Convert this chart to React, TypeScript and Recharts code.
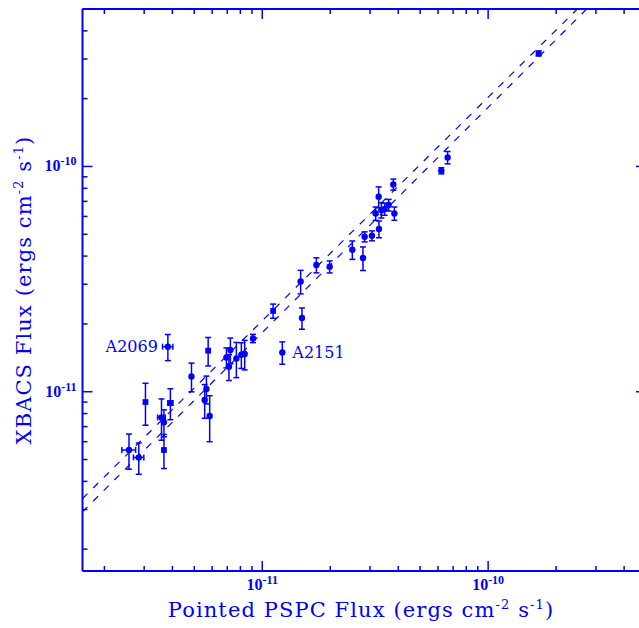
import React from 'react';
import { ScatterChart, Scatter, XAxis, YAxis, ErrorBar, ReferenceLine, ReferenceDot } from 'recharts';

const BLUE = '#0000ff';
const UNIT = 1e-11; // all fluxes below are in units of 1e-11 ergs cm^-2 s^-1

// --- cluster fluxes ---
const PSPC_FLUX = [
    0.257, 0.284, 0.304, 0.358, 0.367, 0.367, 0.392, 0.382, 0.486, 0.566,
    0.556, 0.585, 0.576, 0.694, 0.7225, 0.712, 0.768, 0.808, 0.836, 0.91,
    1.227, 1.117, 1.499, 1.479, 1.736, 1.988, 2.505, 2.792, 2.84, 3.059,
    3.286, 3.177, 3.276, 3.367, 3.482, 3.627, 3.845, 3.805, 6.206, 6.617,
    16.73,
];
const PSPC_ERR = [
    0.018, 0.015, 0, 0.014, 0, 0, 0.01, 0.02, 0, 0,
    0, 0, 0, 0, 0, 0, 0, 0, 0, 0,
    0, 0, 0, 0, 0, 0, 0, 0, 0, 0,
    0, 0, 0, 0, 0, 0, 0, 0, 0, 0,
    0,
];
const XBACS_FLUX = [
    0.551, 0.511, 0.9, 0.769, 0.731, 0.551, 0.891, 1.584, 1.169, 1.028,
    0.919, 0.78, 1.521, 1.42, 1.531, 1.291, 1.405, 1.459, 1.47, 1.724,
    1.494, 2.284, 2.124, 3.088, 3.651, 3.587, 4.268, 3.922, 4.875, 4.925,
    5.275, 6.186, 7.336, 6.404, 6.469, 6.74, 6.186, 8.319, 9.57, 10.96,
    31.74,
];
const XBACS_ERR = [
    0.098, 0.081, 0.19, 0.16, 0.1, 0.095, 0.14, 0.21, 0.17, 0.145,
    0.157, 0.18, 0.22, 0.145, 0.2, 0.17, 0.25, 0.19, 0.22, 0.073,
    0.17, 0.165, 0.23, 0.37, 0.28, 0.22, 0.4, 0.47, 0.25, 0.25,
    0.45, 0.42, 0.78, 0.5, 0.4, 0.4, 0.42, 0.47, 0.3, 0.69,
    0.8,
];
// c = circle, s = square
const MARKER = [
    'c', 'c', 's', 'c', 'c', 's', 's', 'c', 'c', 'c',
    'c', 'c', 's', 'c', 'c', 'c', 'c', 'c', 'c', 'c',
    'c', 's', 'c', 'c', 'c', 'c', 'c', 'c', 'c', 'c',
    'c', 'c', 'c', 'c', 'c', 'c', 'c', 'c', 'c', 'c',
    's',
];

// named clusters: [name, point index, side of the label]
const NAMED = [
    ['A2069', 7, 'left'],
    ['A2151', 20, 'right'],
] as const;

// the two dashed relations, as end points [pspc, xbacs]
const UPPER_LINE = [[0.16, 0.3357], [26, 52.3]];
const LOWER_LINE = [[0.16, 0.293], [28, 51.2]];

const AXIS_MIN = 0.16;
const AXIS_MAX = 50;
const TICKS = [0.2, 0.3, 0.4, 0.5, 0.6, 0.7, 0.8, 0.9, 1, 2, 3, 4, 5, 6, 7, 8, 9, 10, 20, 30, 40, 50];
const DECADE_LABELS: Record<string, string> = { '1': '-11', '10': '-10' };

const data = PSPC_FLUX.map((x, i) => ({
    x: x * UNIT,
    y: XBACS_FLUX[i] * UNIT,
    ex: PSPC_ERR[i] * UNIT,
    ey: XBACS_ERR[i] * UNIT,
    marker: MARKER[i],
}));

const W = 660;
const H = 628;
const PLOT_TOP = 9;
const PLOT_RIGHT = W - 14;
const PLOT_LEFT = 82.5;
const PLOT_BOTTOM = 571;
const TICK_FONT = '"Liberation Serif", serif';
const TITLE_FONT = '"DejaVu Serif", serif';

const decadeOf = (v: number) => DECADE_LABELS[String(Math.round(v / UNIT * 100) / 100)];

const Marker = (props: any) => {
    const { cx, cy, payload } = props;
    if (cx == null || cy == null) return null;
    if (payload.marker === 's') {
        return <rect x={cx - 2.9} y={cy - 2.9} width={5.8} height={5.8} fill={BLUE} />;
    }
    return <circle cx={cx} cy={cy} r={3.2} fill={BLUE} />;
};

const TickLabel = ({ x, y, exp, anchor }: { x: number; y: number; exp: string; anchor: 'middle' | 'end' }) => (
    <text x={x} y={y} textAnchor={anchor} fill={BLUE} fontFamily={TICK_FONT} fontWeight="bold" fontSize={16}>
        10<tspan dy={-6} fontSize={12}>{exp}</tspan>
    </text>
);

// bottom ticks, plus the matching ticks along the top of the frame
const XTick = (props: any) => {
    const { x, payload } = props;
    const exp = decadeOf(payload.value);
    const len = exp ? 10 : 5;
    return (
        <g>
            <line x1={x} x2={x} y1={PLOT_BOTTOM} y2={PLOT_BOTTOM - len} stroke={BLUE} strokeWidth={1.5} />
            <line x1={x} x2={x} y1={PLOT_TOP} y2={PLOT_TOP + len} stroke={BLUE} strokeWidth={1.5} />
            {exp && <TickLabel x={x} y={PLOT_BOTTOM + 19} exp={exp} anchor="middle" />}
        </g>
    );
};

// left ticks, plus the matching ticks along the right of the frame
const YTick = (props: any) => {
    const { y, payload } = props;
    const exp = decadeOf(payload.value);
    const len = exp ? 10 : 5;
    return (
        <g>
            <line x1={PLOT_LEFT} x2={PLOT_LEFT + len} y1={y} y2={y} stroke={BLUE} strokeWidth={1.5} />
            <line x1={PLOT_RIGHT} x2={PLOT_RIGHT - len} y1={y} y2={y} stroke={BLUE} strokeWidth={1.5} />
            {exp && <TickLabel x={PLOT_LEFT - 6} y={y + 5} exp={exp} anchor="end" />}
        </g>
    );
};

const TitleText = ({ x, y, rotate, lead }: { x: number; y: number; rotate?: boolean; lead: string }) => (
    <text x={x} y={y} transform={rotate ? `rotate(-90, ${x}, ${y})` : undefined} textAnchor="middle"
        fill={BLUE} fontFamily={TITLE_FONT} fontSize={21} letterSpacing={1.1}>
        {lead} (ergs cm<tspan dy={-8} fontSize={13}>-2</tspan>
        <tspan dy={8}> s</tspan><tspan dy={-8} fontSize={13}>-1</tspan><tspan dy={8}>)</tspan>
    </text>
);

const XTitle = () => <TitleText x={361} y={617} lead="Pointed PSPC Flux" />;
const YTitle = () => <TitleText x={31} y={290} rotate lead="XBACS Flux" />;

const segment = (pts: number[][]) => pts.map(([x, y]) => ({ x: x * UNIT, y: y * UNIT }));

export default function App() {
    const domain = [AXIS_MIN * UNIT, AXIS_MAX * UNIT];
    const ticks = TICKS.map(t => t * UNIT);
    return (
        <div style={{ position: 'fixed', left: 0, top: 0, width: 639, height: 628, overflow: 'hidden', background: '#fff' }}>
            <ScatterChart width={W} height={H} margin={{ top: PLOT_TOP, right: 14, bottom: 0, left: 0 }}>
                <XAxis
                    type="number" dataKey="x" scale="log" domain={domain} allowDataOverflow
                    ticks={ticks} interval={0} tick={<XTick />} tickSize={0} tickMargin={0} tickLine={false}
                    height={H - PLOT_BOTTOM} axisLine={{ stroke: BLUE, strokeWidth: 2 }}
                    label={{ content: XTitle }}
                />
                <YAxis
                    type="number" dataKey="y" scale="log" domain={domain} allowDataOverflow
                    ticks={ticks} interval={0} tick={<YTick />} tickSize={0} tickMargin={0} tickLine={false}
                    width={PLOT_LEFT} axisLine={{ stroke: BLUE, strokeWidth: 2 }}
                    label={{ content: YTitle }}
                />
                <ReferenceLine y={AXIS_MAX * UNIT} stroke={BLUE} strokeWidth={2} />
                <ReferenceLine x={AXIS_MAX * UNIT} stroke={BLUE} strokeWidth={2} />
                <ReferenceLine segment={segment(UPPER_LINE)} ifOverflow="hidden" stroke={BLUE} strokeWidth={1.2} strokeDasharray="7 8" />
                <ReferenceLine segment={segment(LOWER_LINE)} ifOverflow="hidden" stroke={BLUE} strokeWidth={1.2} strokeDasharray="7 8" />
                <Scatter data={data} shape={<Marker />} isAnimationActive={false}>
                    <ErrorBar dataKey="ey" direction="y" width={3} stroke={BLUE} strokeWidth={1.5} isAnimationActive={false} />
                    <ErrorBar dataKey="ex" direction="x" width={3} stroke={BLUE} strokeWidth={1.5} isAnimationActive={false} />
                </Scatter>
                {NAMED.map(([name, idx, side]) => (
                    <ReferenceDot
                        key={name} x={data[idx].x} y={data[idx].y} r={0} stroke="none"
                        label={{ value: name, position: side, offset: 10, fill: BLUE, fontSize: 16, fontFamily: TITLE_FONT }}
                    />
                ))}
            </ScatterChart>
        </div>
    );
}
